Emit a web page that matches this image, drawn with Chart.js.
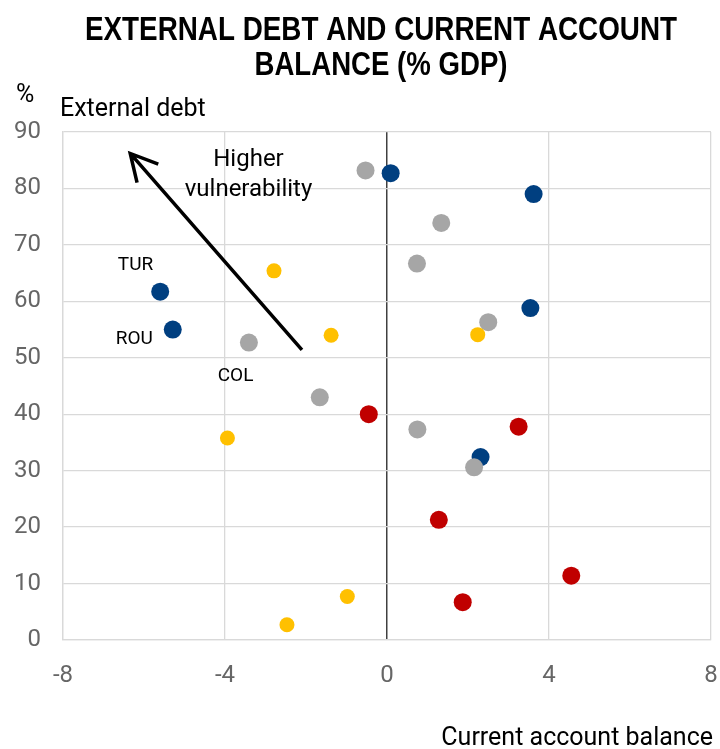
<!DOCTYPE html>
<html lang="en">
<head>
	<meta charset="utf-8">
	<title>External debt and current account balance</title>
	<script src="https://cdn.jsdelivr.net/npm/chart.js@4.4.1/dist/chart.umd.min.js"></script>
	<style>
		body { margin: 0; background: #fff; }
		canvas { display: block; }
	</style>
</head>
<body>
	<canvas id="debtChart" width="720" height="749"></canvas>
	<script>
  // current account balance (x) / external debt (y), % GDP
  var blueX = [0.09, 3.62, -5.60, -5.29, 3.54, 2.31];
  var blueY = [82.7, 79.0, 61.7, 55.0, 58.8, 32.4];
  var greyX = [-0.53, 1.34, 0.74, 2.50, -3.41, -1.66, 0.75, 2.15];
  var greyY = [83.2, 73.9, 66.7, 56.3, 52.7, 43.0, 37.3, 30.6];
  var yellowX = [-2.79, -1.38, 2.24, -3.94, -0.98, -2.47];
  var yellowY = [65.4, 54.0, 54.1, 35.8, 7.7, 2.7];
  var redX = [-0.45, 3.25, 1.28, 4.55, 1.87];
  var redY = [40.0, 37.8, 21.3, 11.4, 6.7];

  var xTicks = [-8, -4, 0, 4, 8];
  var yTicks = [0, 10, 20, 30, 40, 50, 60, 70, 80, 90];

  // text labels placed in data units
  var labelText = ["TUR", "ROU", "COL"];
  var labelX = [-6.21, -6.24, -3.74];
  var labelY = [66.4, 53.2, 46.8];

  var arrowFrom = [-2.10, 51.4];
  var arrowTo = [-6.34, 86.2];
  var noteText = ["Higher", "vulnerability"];
  var noteX = -3.42;
  var noteY = [85.0, 79.7];

  var lightFont = "Roboto, 'Liberation Sans', sans-serif";

  function toPoints(xs, ys) {
  	var pts = [];
  	for (var i = 0; i < xs.length; i++) {
  		pts.push({ x: xs[i], y: ys[i] });
  	}
  	return pts;
  }

  var extras = {
  	id: 'extras',
  	afterDatasetsDraw: function(chart) {
  		var ctx = chart.ctx;
  		var xs = chart.scales.x;
  		var ys = chart.scales.y;

  		// arrow
  		var x1 = xs.getPixelForValue(arrowFrom[0]);
  		var y1 = ys.getPixelForValue(arrowFrom[1]);
  		var x2 = xs.getPixelForValue(arrowTo[0]);
  		var y2 = ys.getPixelForValue(arrowTo[1]);
  		var ang = Math.atan2(y1 - y2, x1 - x2);
  		var len = 30;
  		var spread = 28 * Math.PI / 180;
  		ctx.save();
  		ctx.strokeStyle = "#000";
  		ctx.lineWidth = 3.5;
  		ctx.beginPath();
  		ctx.moveTo(x1, y1);
  		ctx.lineTo(x2, y2);
  		ctx.moveTo(x2 + len * Math.cos(ang - spread), y2 + len * Math.sin(ang - spread));
  		ctx.lineTo(x2, y2);
  		ctx.lineTo(x2 + len * Math.cos(ang + spread), y2 + len * Math.sin(ang + spread));
  		ctx.stroke();

  		ctx.fillStyle = "#000";
  		ctx.textAlign = "center";
  		ctx.textBaseline = "middle";
  		ctx.font = "24px " + lightFont;
  		for (var i = 0; i < noteText.length; i++) {
  			ctx.fillText(noteText[i], xs.getPixelForValue(noteX), ys.getPixelForValue(noteY[i]));
  		}
  		ctx.font = "19px " + lightFont;
  		for (var j = 0; j < labelText.length; j++) {
  			ctx.fillText(labelText[j], xs.getPixelForValue(labelX[j]), ys.getPixelForValue(labelY[j]));
  		}

  		// title (squeezed to look condensed) and axis names
  		ctx.textBaseline = "alphabetic";
  		ctx.font = "bold 34px 'Liberation Sans', Arial, sans-serif";
  		ctx.fillText("EXTERNAL DEBT AND CURRENT ACCOUNT", 381, 40, 592);
  		ctx.fillText("BALANCE (% GDP)", 381, 75, 253);

  		ctx.font = "25px " + lightFont;
  		ctx.textAlign = "left";
  		ctx.fillText("%", 16, 102);
  		ctx.fillText("External debt", 60, 116);
  		ctx.textAlign = "right";
  		ctx.fillText("Current account balance", 713, 745);
  		ctx.restore();
  	}
  };

  var chart = new Chart(document.getElementById("debtChart"), {
  	type: 'scatter',
  	data: {
  		datasets: [{
  			data: toPoints(redX, redY),
  			backgroundColor: "#c00000",
  			pointRadius: 9
  		}, {
  			data: toPoints(yellowX, yellowY),
  			backgroundColor: "#ffc000",
  			pointRadius: 7.5
  		}, {
  			data: toPoints(greyX, greyY),
  			backgroundColor: "#a6a6a6",
  			pointRadius: 9
  		}, {
  			data: toPoints(blueX, blueY),
  			backgroundColor: "#003f80",
  			pointRadius: 9
  		}]
  	},
  	options: {
  		responsive: false,
  		animation: false,
  		elements: { point: { borderWidth: 0, hoverRadius: 9 } },
  		layout: { padding: { top: 132, left: 0, right: 4, bottom: 0 } },
  		plugins: {
  			legend: { display: false },
  			tooltip: { enabled: false },
  			title: { display: false }
  		},
  		scales: {
  			x: {
  				type: 'linear',
  				min: -8,
  				max: 8,
  				afterBuildTicks: function(scale) {
  					scale.ticks = xTicks.map(function(v) { return { value: v }; });
  				},
  				afterFit: function(scale) {
  					scale.height = 109;
  					scale.paddingLeft = 0;
  					scale.paddingRight = 0;
  				},
  				grid: {
  					color: function(c) { return c.tick && c.tick.value === 0 ? "#404040" : "#d9d9d9"; },
  					lineWidth: function(c) { return c.tick && c.tick.value === 0 ? 1.5 : 1.3; },
  					drawTicks: false
  				},
  				border: { color: "#d9d9d9", width: 1.3 },
  				ticks: {
  					padding: 22,
  					color: "#666666",
  					maxRotation: 0,
  					font: { family: lightFont, size: 24 }
  				}
  			},
  			y: {
  				type: 'linear',
  				min: 0,
  				max: 90,
  				afterBuildTicks: function(scale) {
  					scale.ticks = yTicks.map(function(v) { return { value: v }; });
  				},
  				afterFit: function(scale) { scale.width = 63; },
  				grid: { color: "#d9d9d9", lineWidth: 1.3, drawTicks: false },
  				border: { color: "#d9d9d9", width: 1.3 },
  				ticks: {
  					padding: 22,
  					color: "#666666",
  					font: { family: lightFont, size: 24 }
  				}
  			}
  		}
  	},
  	plugins: [extras]
  });
	</script>
</body>
</html>
